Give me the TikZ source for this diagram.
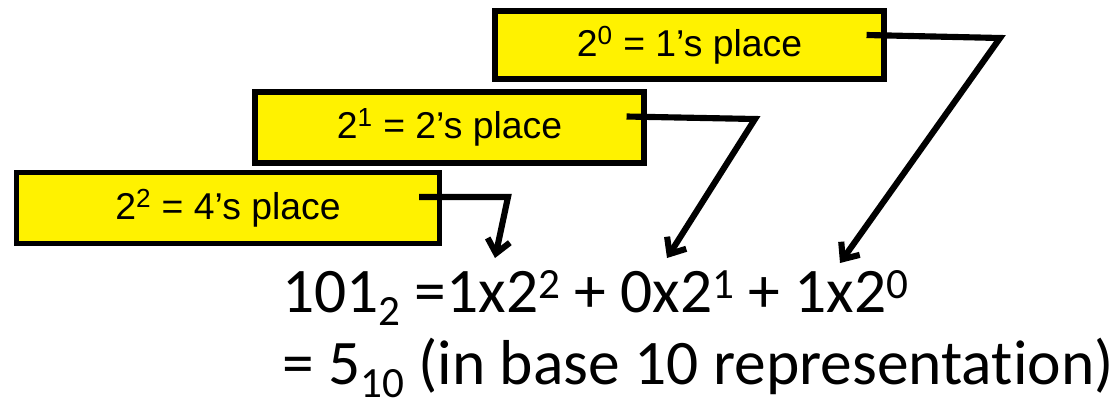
\documentclass[tikz,border=0pt]{standalone}
\usepackage{fontspec}
\setmainfont[Ligatures=NoCommon]{Carlito}
\newfontfamily\boxfont{Liberation Sans}
\usetikzlibrary{arrows.meta,calc}
\newcommand{\upnum}[1]{\raisebox{0.22em}{\scalebox{0.68}{#1}}}
\newcommand{\lownum}[1]{\raisebox{-0.22em}{\scalebox{0.68}{#1}}}

\begin{document}
\begin{tikzpicture}[x=0.75pt,y=-0.75pt,
  placebox/.style={draw=black, fill=yellow, line width=3.8pt, inner sep=0pt,
    font=\boxfont\fontsize{28}{32}\selectfont},
  pointer/.style={draw=black, line width=4.6pt, line join=miter,
    -{Straight Barb[length=10pt,width=17pt]}}]
\useasboundingbox (0,0) rectangle (1116,401);
% place value boxes
\node[placebox, minimum width=291.75pt, minimum height=51pt] (box0) at (689.5,45) {2\textsuperscript{0} = 1’s place};
\node[placebox, minimum width=291.75pt, minimum height=53.25pt] (box1) at (449.5,127.5) {2\textsuperscript{1} = 2’s place};
\node[placebox, minimum width=317.25pt, minimum height=53.25pt] (box2) at (228,208) {2\textsuperscript{2} = 4’s place};
% the expansion
\node[anchor=base west, inner sep=0pt, font=\fontsize{47.6}{58}\selectfont] (expand) at (282,312)
  {101\lownum{2} =1x2\upnum{2} + 0x2\upnum{1} + 1x2\upnum{0}};
\node[anchor=base west, inner sep=0pt, font=\fontsize{47.6}{58}\selectfont] (result) at (282,384)
  {= 5\lownum{10} (in base 10 representation)};
% bends and tips of the pointers
\coordinate (bend0) at (1000,38);
\coordinate (tip0) at (840,263);
\coordinate (bend1) at (755,119);
\coordinate (tip1) at (667,258);
\coordinate (bend2) at (508,197);
\coordinate (tip2) at (495,258);
\draw[pointer] ($(box0.east)+(-20,-10)$) -- (bend0) -- (tip0);
\draw[pointer] ($(box1.east)+(-20,-11)$) -- (bend1) -- (tip1);
\draw[pointer] ($(box2.east)+(-23,-11)$) -- (bend2) -- (tip2);
\end{tikzpicture}
\end{document}
